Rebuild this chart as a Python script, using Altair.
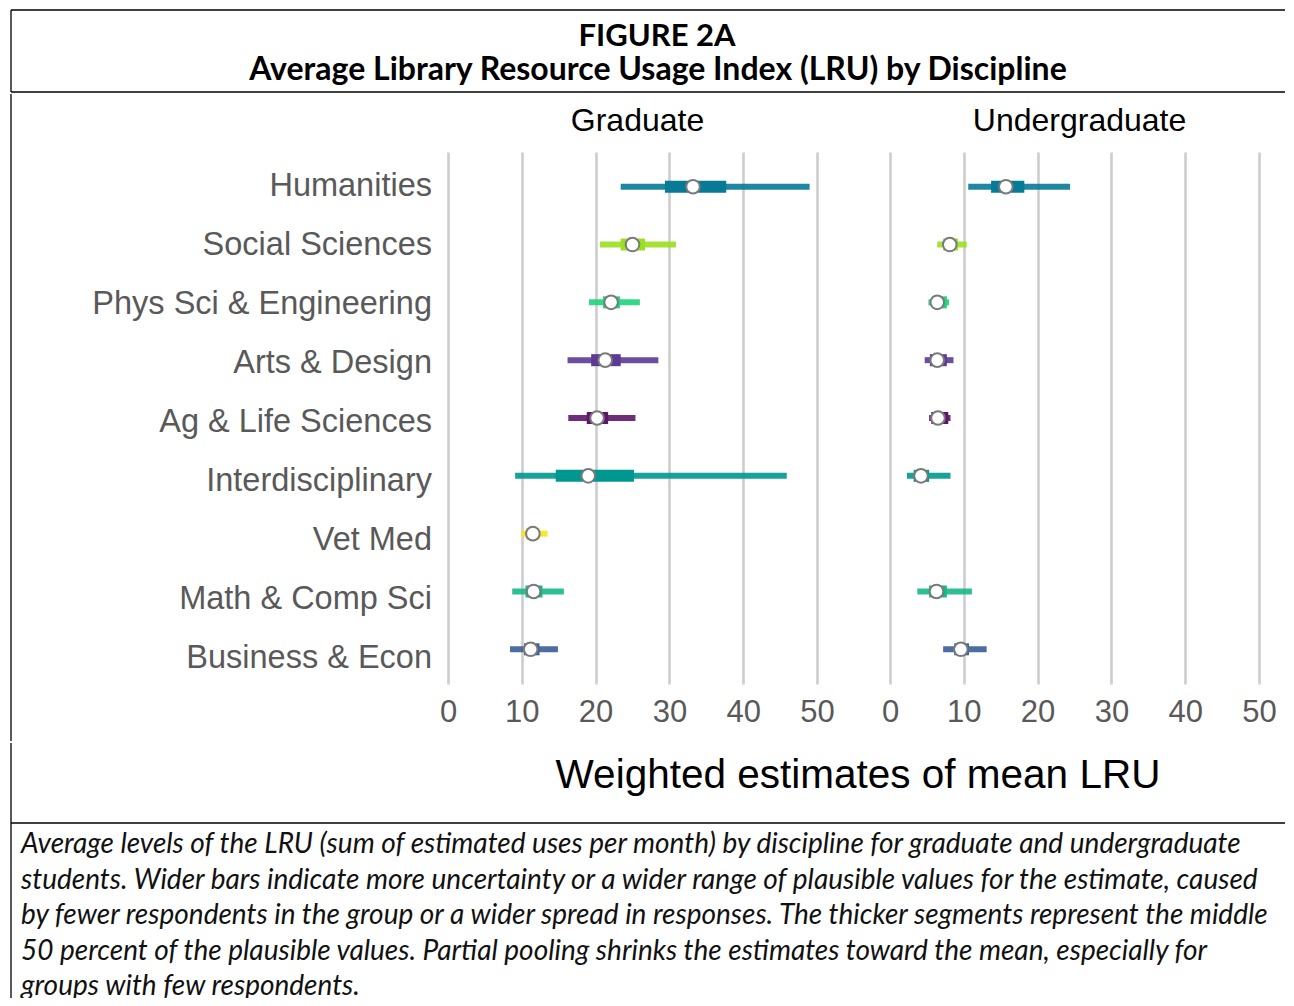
import altair as alt
import pandas as pd

categories = ["Humanities", "Social Sciences", "Phys Sci & Engineering", "Arts & Design",
              "Ag & Life Sciences", "Interdisciplinary", "Vet Med", "Math & Comp Sci", "Business & Econ"]
colors = ["#077A96", "#9ADF22", "#1FD47B", "#5C3B93", "#5E166A", "#009790", "#F8E41C", "#17B887", "#3B5E98"]

grad_est = [33.2, 25.0, 22.1, 21.3, 20.2, 19.0, 11.5, 11.6, 11.2]
grad_lo90 = [23.4, 20.6, 19.1, 16.2, 16.3, 9.1, 9.9, 8.7, 8.4]
grad_hi90 = [49.0, 30.9, 26.0, 28.5, 25.4, 45.9, 13.5, 15.7, 14.9]
grad_lo50 = [29.4, 23.4, 21.0, 19.4, 18.8, 14.6, 10.6, 10.5, 10.3]
grad_hi50 = [37.7, 26.7, 23.3, 23.4, 21.7, 25.2, 12.4, 12.8, 12.4]

ug_est = [15.7, 8.1, 6.4, 6.4, 6.5, 4.2, None, 6.3, 9.6]
ug_lo90 = [10.6, 6.4, 5.2, 4.7, 5.3, 2.3, None, 3.7, 7.2]
ug_hi90 = [24.4, 10.4, 8.0, 8.6, 8.2, 8.2, None, 11.1, 13.1]
ug_lo50 = [13.7, 7.2, 5.7, 5.4, 5.6, 3.2, None, 5.3, 8.7]
ug_hi50 = [18.2, 9.2, 7.7, 7.7, 7.9, 5.3, None, 7.7, 10.7]

x_ticks = [0, 5, 10, 15, 20, 25, 30, 35, 40, 45, 50]

title_line1 = "FIGURE 2A"
title_line2 = "Average Library Resource Usage Index (LRU) by Discipline"
x_title = "Weighted estimates of mean LRU"
caption_lines = [
    "Average levels of the LRU (sum of estimated uses per month) by discipline for graduate and undergraduate",
    "students. Wider bars indicate more uncertainty or a wider range of plausible values for the estimate, caused",
    "by fewer respondents in the group or a wider spread in responses. The thicker segments represent the middle",
    "50 percent of the plausible values. Partial pooling shrinks the estimates toward the mean, especially for",
    "groups with few respondents.",
]

rows = []
for lvl, est, lo90, hi90, lo50, hi50 in [
    ("Graduate", grad_est, grad_lo90, grad_hi90, grad_lo50, grad_hi50),
    ("Undergraduate", ug_est, ug_lo90, ug_hi90, ug_lo50, ug_hi50),
]:
    for i, c in enumerate(categories):
        if est[i] is None:
            continue
        rows.append(dict(level=lvl, discipline=c, est=est[i], lo90=lo90[i], hi90=hi90[i],
                         lo50=lo50[i], hi50=hi50[i]))
df = pd.DataFrame(rows)
cat_df = pd.DataFrame({"discipline": categories})
one = pd.DataFrame({"k": [0]})

W = 1274
LW = 428
PW = 369
PH = 532
LABEL_FONT = "Liberation Sans"
FRAME = dict(color="black", strokeWidth=1.3)
yscale = alt.Scale(domain=categories, paddingOuter=0.1, paddingInner=0)

labels = alt.layer(
    alt.Chart(cat_df).mark_text(align="right", baseline="middle", font=LABEL_FONT, fontSize=32.5,
                                color="#595959", dy=4).encode(
        y=alt.Y("discipline:N", scale=yscale, axis=None),
        x=alt.value(421),
        text="discipline:N"),
    alt.Chart(one).mark_rule(**FRAME).encode(x=alt.value(0), y=alt.value(-58), y2=alt.value(589)),
).properties(width=LW, height=PH)


def panel(level):
    base = alt.Chart(df).transform_filter(alt.datum.level == level)
    y = alt.Y("discipline:N", scale=yscale, axis=None)
    x = alt.X("lo90:Q", scale=alt.Scale(domain=[0, 50], nice=False, zero=False),
              axis=alt.Axis(values=x_ticks,
                            labelExpr="datum.value % 10 === 0 ? datum.label : ''",
                            grid=True,
                            gridColor={"condition": {"test": "datum.value % 10 === 0", "value": "#cdcdcd"},
                                       "value": "#d9d9d9"},
                            gridWidth={"condition": {"test": "datum.value % 10 === 0", "value": 2.6},
                                       "value": 1.6},
                            domain=False, ticks=False, labelFontSize=31, labelColor="#595959",
                            labelPadding=13, labelFont=LABEL_FONT, title=None, labelFlush=False))
    color = alt.Color("discipline:N", scale=alt.Scale(domain=categories, range=colors), legend=None)
    thin = base.mark_rule(strokeWidth=6, opacity=0.9, strokeCap="butt").encode(
        x=x, x2="hi90:Q", y=y, color=color)
    thick = base.mark_rule(strokeWidth=12, strokeCap="butt").encode(
        x="lo50:Q", x2="hi50:Q", y="discipline:N", color=color)
    pt = base.mark_point(shape="circle", filled=True, fill="white", stroke="#7a7a7a",
                         strokeWidth=2, size=185, opacity=1).encode(x="est:Q", y="discipline:N")
    return alt.layer(thin, thick, pt).properties(
        width=PW, height=PH,
        title=alt.TitleParams(level, fontSize=32, font=LABEL_FONT, fontWeight="normal",
                              color="black", offset=14, anchor="middle", dx=5))


grad = panel("Graduate")
ug = panel("Undergraduate")
panels = alt.hconcat(grad, ug, spacing=46).resolve_scale(x="independent", y="independent")
middle = alt.hconcat(labels, panels, spacing=0).resolve_scale(x="independent", y="independent")

HH = 82
header = alt.layer(
    alt.Chart(one).mark_text(font="Lato", fontWeight="bold", fontSize=31, align="center",
                             baseline="alphabetic", color="black").encode(
        x=alt.value(646), y=alt.value(36), text=alt.value(title_line1)),
    alt.Chart(one).mark_text(font="Lato", fontWeight="bold", fontSize=32, align="center",
                             baseline="alphabetic", color="black").encode(
        x=alt.value(647), y=alt.value(70), text=alt.value(title_line2)),
    alt.Chart(one).mark_rule(**FRAME).encode(x=alt.value(0), x2=alt.value(W), y=alt.value(0)),
    alt.Chart(one).mark_rule(**FRAME).encode(x=alt.value(0), x2=alt.value(W), y=alt.value(HH)),
    alt.Chart(one).mark_rule(**FRAME).encode(x=alt.value(0), y=alt.value(0), y2=alt.value(HH)),
).properties(width=W, height=HH)

HL = 255
lower = alt.layer(
    alt.Chart(one).mark_text(font=LABEL_FONT, fontSize=40.5, align="center", baseline="alphabetic",
                             color="black").encode(
        x=alt.value(847), y=alt.value(45), text=alt.value(x_title)),
    alt.Chart(one).mark_rule(**FRAME).encode(x=alt.value(0), x2=alt.value(W), y=alt.value(80)),
    alt.Chart(one).mark_rule(**FRAME).encode(x=alt.value(0), y=alt.value(0), y2=alt.value(HL)),
    alt.Chart(one).mark_text(font="Lato", fontStyle="italic", fontSize=28, align="left",
                             baseline="alphabetic", color="#111111", lineHeight=35.6,
                             clip=True).encode(
        x=alt.value(10), y=alt.value(110), text=alt.value(caption_lines)),
).properties(width=W, height=HL)

chart = alt.vconcat(header, middle, lower, spacing=0).properties(
    padding={"left": 2, "top": 1, "right": 0, "bottom": 0}
).configure_view(stroke=None).configure_concat(spacing=0)

chart.save("out.html", embed_options={"renderer": "svg", "actions": False})
